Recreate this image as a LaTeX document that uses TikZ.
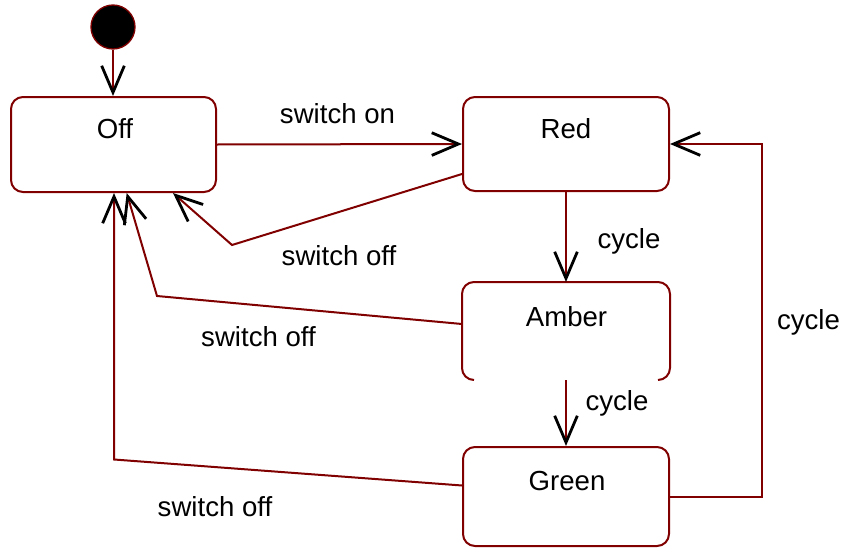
\documentclass[tikz,border=0pt]{standalone}
\usepackage{fontspec}
\setmainfont{Liberation Sans}
\usetikzlibrary{arrows.meta,calc}
\definecolor{dred}{RGB}{128,0,0}
\tikzset{
  statebox/.style={draw=dred, line width=1.5pt, rounded corners=9pt, rectangle, inner sep=0pt},
  lbl/.style={font=\fontsize{20.7pt}{24pt}\selectfont, text=black, inner sep=0pt, anchor=base},
  trans/.style={draw=dred, line width=1.5pt, -{Straight Barb[length=20pt,width=17pt,color=black,line width=2.1pt]}},
  plain/.style={draw=dred, line width=1.5pt}
}
\begin{document}
\begin{tikzpicture}[x=0.75pt,y=-0.75pt]
\useasboundingbox (0,0) rectangle (844,550);
% states
\node[circle, fill=black, draw=dred, line width=1pt, minimum size=33pt, inner sep=0pt] (init) at (113,27) {};
\node[statebox, minimum width=153.75pt, minimum height=71.25pt] (Off) at (113.5,144.5) {};
\node[statebox, minimum width=154.5pt, minimum height=70.5pt] (Red) at (566,144) {};
\node[statebox, draw=none, minimum width=154.5pt, minimum height=72pt] (Amber) at (566,331) {};
\node[statebox, minimum width=154.5pt, minimum height=74.25pt] (Green) at (566,496.5) {};
% Amber outline (bottom edge not drawn)
\draw[plain, rounded corners=9pt] ($(Amber.south west)+(12,0)$) -- (Amber.south west) -- (Amber.north west) -- (Amber.north east) -- (Amber.south east) -- ($(Amber.south east)+(-12,0)$);
% state names
\node[lbl] (tOff) at (115,138) {Off};
\node[lbl] (tRed) at (566,138) {Red};
\node[lbl] (tAmber) at (566.5,326) {Amber};
\node[lbl] (tGreen) at (567,490) {Green};
% bend points
\coordinate (b1) at (232,245);
\coordinate (b2) at (157,296);
\coordinate (b3) at (114,459.5);
\coordinate (b5) at (762,144);
% transitions
\draw[trans] (init.south) -- (init.south |- Off.north);
\draw[trans] (Off.east) -- (Red.west);
\draw[trans] ([yshift=-22.5pt]Red.west) -- (b1) -- ([xshift=44.6pt]Off.south);
\draw[trans] ([yshift=5.25pt]Amber.west) -- (b2) -- ([xshift=9.9pt]Off.south);
\draw[trans] ([yshift=8.25pt]Green.west) -- (b3) -- (b3 |- Off.south);
\draw[trans] (Red.south) -- (Amber.north);
\draw[trans] (Amber.south) -- (Green.north);
\draw[trans] (Green.east) -- (Green.east -| b5) -- (b5) -- (Red.east);
% labels
\node[lbl] (lon) at (337.5,123) {switch on};
\node[lbl] (loff1) at (339,265) {switch off};
\node[lbl] (loff2) at (258.5,346.5) {switch off};
\node[lbl] (loff3) at (215,516.5) {switch off};
\node[lbl] (lc1) at (629,248.5) {cycle};
\node[lbl] (lc2) at (617,410.5) {cycle};
\node[lbl] (lc3) at (808.5,329) {cycle};
\end{tikzpicture}
\end{document}
